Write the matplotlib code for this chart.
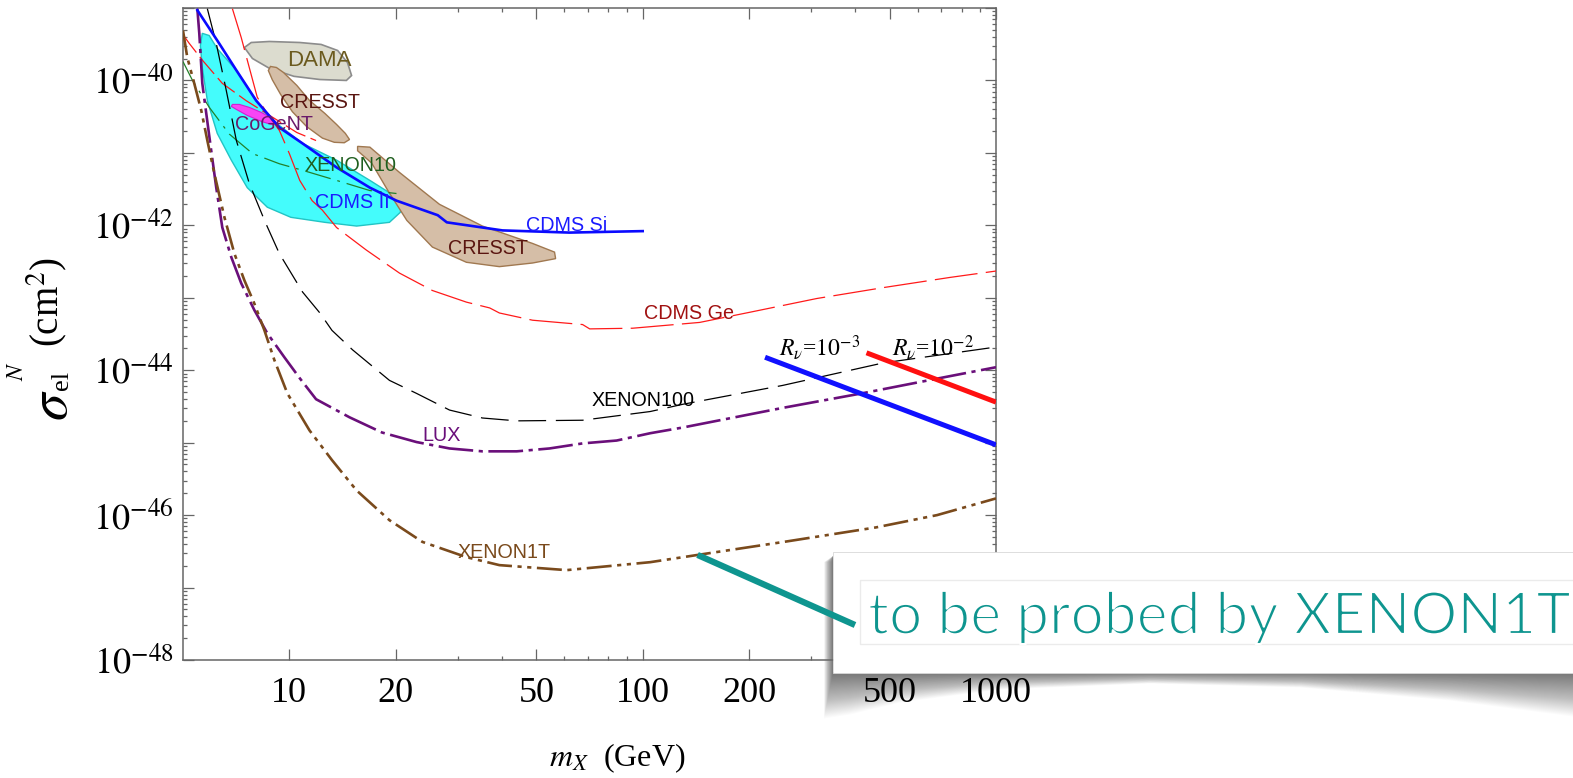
import matplotlib
matplotlib.use('Agg')
import matplotlib.pyplot as plt
import matplotlib.patheffects as pe
from matplotlib.patches import Polygon, Rectangle
from matplotlib.lines import Line2D
from matplotlib.ticker import NullFormatter

W, H = 1573, 778

# ---- values: WIMP mass in GeV, cross section in cm^2 ----
cdms_si_mass = [5.49, 6.33, 7.08, 8.06, 9.37, 10.9, 13.6, 16.9, 20.1, 26.3, 27.9, 40.1, 62.1, 100]
cdms_si_sigma = [9.33e-40, 3.24e-40, 1.38e-40, 5.25e-41, 2.24e-41, 1.35e-41, 6.31e-42, 3.31e-42,
                 2.19e-42, 1.38e-42, 1.10e-42, 8.51e-43, 7.94e-43, 8.32e-43]

cdms_ge_mass = [6.90, 7.31, 7.70, 8.11, 8.66, 9.37, 10.0, 10.7, 11.6, 12.4, 13.6, 16.5, 20.5, 25.4,
                31.7, 36.9, 39.3, 48.8, 67.6, 70.8, 93.7, 145, 201, 311, 479, 741, 1000]
cdms_ge_sigma = [9.77e-40, 3.89e-40, 1.51e-40, 5.89e-41, 3.47e-41, 2.04e-41, 9.77e-42, 4.17e-42,
                 2.19e-42, 1.62e-42, 9.33e-43, 4.57e-43, 2.19e-43, 1.26e-43, 8.71e-44, 7.24e-44,
                 6.17e-44, 4.90e-44, 4.27e-44, 3.72e-44, 3.80e-44, 4.57e-44, 6.31e-44, 9.77e-44,
                 1.38e-43, 1.91e-43, 2.34e-43]

cdms_lt_mass = [5.0, 5.21, 5.67, 6.46, 7.55, 8.78, 10.5, 11.9]
cdms_lt_sigma = [4.27e-40, 3.24e-40, 1.91e-40, 9.12e-41, 5.25e-41, 3.31e-41, 1.91e-41, 1.48e-41]

xenon10_mass = [5.0, 5.32, 5.93, 6.76, 7.87, 9.37, 10.9, 13.6, 16.9, 20.1]
xenon10_sigma = [1.82e-40, 1.0e-40, 4.27e-41, 1.82e-41, 9.77e-42, 7.08e-42, 5.75e-42, 4.17e-42,
                 3.02e-42, 2.75e-42]

xenon100_mass = [5.86, 6.21, 6.63, 7.08, 7.70, 8.55, 9.37, 10.9, 12.2, 13.2, 15.1, 19.2, 22.9,
                 28.4, 35.2, 44.0, 67.6, 105, 130, 249, 479, 1000]
xenon100_sigma = [9.77e-40, 3.24e-40, 7.24e-41, 1.48e-41, 3.80e-42, 1.10e-42, 4.07e-43, 1.20e-43,
                  6.17e-44, 3.55e-44, 1.91e-44, 7.24e-45, 4.79e-45, 2.82e-45, 2.19e-45, 2.00e-45,
                  2.04e-45, 2.69e-45, 3.39e-45, 6.17e-45, 1.26e-44, 2.09e-44]

lux_mass = [5.49, 5.56, 5.67, 5.82, 6.01, 6.21, 6.46, 6.85, 7.31, 7.96, 8.66, 9.68, 10.7, 11.9,
            14.8, 18.3, 22.9, 28.4, 35.2, 44.0, 54.5, 67.6, 84.4, 105, 130, 249, 417, 708, 1000]
lux_sigma = [9.77e-40, 4.47e-40, 9.12e-41, 3.47e-41, 1.07e-41, 3.31e-42, 9.33e-43, 3.63e-43,
             1.58e-43, 6.76e-44, 3.24e-44, 1.51e-44, 7.76e-45, 3.98e-45, 2.24e-45, 1.38e-45,
             1.02e-45, 8.32e-46, 7.59e-46, 7.59e-46, 8.32e-46, 9.77e-46, 1.07e-45, 1.35e-45,
             1.62e-45, 3.02e-45, 4.79e-45, 7.94e-45, 1.10e-44]

xenon1t_mass = [5.0, 5.14, 5.38, 5.63, 5.86, 6.13, 6.55, 6.99, 7.46, 7.96, 8.50, 9.07, 9.87, 11.4,
                13.2, 15.5, 19.2, 23.8, 31.7, 39.3, 60.9, 105, 143, 251, 457, 681, 1000]
xenon1t_sigma = [4.90e-40, 2.09e-40, 9.12e-41, 3.89e-41, 1.48e-41, 5.25e-42, 1.29e-42, 4.07e-43,
                 1.74e-43, 8.32e-44, 3.55e-44, 1.38e-44, 4.79e-45, 1.48e-45, 5.75e-46, 2.19e-46,
                 8.51e-47, 4.27e-47, 2.63e-47, 2.04e-47, 1.74e-47, 2.24e-47, 2.82e-47, 4.27e-47,
                 6.76e-47, 1.0e-46, 1.70e-46]

rv3_mass = [222, 1000]
rv3_sigma = [1.51e-44, 9.33e-46]
rv2_mass = [430, 1000]
rv2_sigma = [1.74e-44, 3.63e-45]

# signal regions (closed outlines)
cdms_ii_mass = [5.67, 5.93, 6.25, 7.08, 8.06, 9.19, 10.9, 13.6, 16.9, 20.1, 20.8, 20.6, 19.2, 15.5,
                12.6, 10.1, 8.66, 7.60, 6.85, 6.25, 5.86, 5.67, 5.60]
cdms_ii_sigma = [4.47e-40, 4.17e-40, 2.75e-40, 1.38e-40, 5.25e-41, 2.57e-41, 1.35e-41, 7.94e-42,
                 4.17e-42, 2.45e-42, 1.91e-42, 1.51e-42, 1.10e-42, 9.77e-43, 1.10e-42, 1.29e-42,
                 1.78e-42, 3.31e-42, 7.94e-42, 1.86e-41, 5.25e-41, 1.51e-40, 3.02e-40]

dama_mass = [7.46, 7.80, 8.78, 10.7, 12.3, 13.7, 14.6, 15.0, 14.5, 12.2, 10.3, 8.78, 7.86]
dama_sigma = [2.85e-40, 3.34e-40, 3.45e-40, 3.34e-40, 3.14e-40, 2.59e-40, 1.77e-40, 1.17e-40,
              1.0e-40, 1.03e-40, 1.14e-40, 1.47e-40, 2.01e-40]

cresst_a_mass = [8.84, 9.19, 9.62, 10.5, 11.4, 12.6, 13.6, 14.4, 14.8, 14.3, 13.4, 12.4, 11.2,
                 10.2, 9.45, 8.95, 8.72]
cresst_a_sigma = [1.56e-40, 1.51e-40, 1.29e-40, 8.53e-41, 5.30e-41, 3.51e-41, 2.47e-41, 1.86e-41,
                  1.53e-41, 1.38e-41, 1.40e-41, 1.60e-41, 2.30e-41, 3.70e-41, 6.40e-41, 1.02e-40,
                  1.37e-40]

cresst_b_mass = [15.6, 16.9, 20.5, 26.6, 35.2, 48.8, 56.3, 56.7, 48.8, 39.3, 31.7, 25.4, 21.5,
                 19.0, 17.1, 15.6]
cresst_b_sigma = [1.23e-41, 1.20e-41, 5.37e-42, 1.95e-42, 9.77e-43, 5.62e-43, 4.27e-43, 3.47e-43,
                  3.02e-43, 2.69e-43, 3.09e-43, 5.01e-43, 1.17e-42, 3.02e-42, 7.24e-42, 1.07e-41]

cogent_mass = [6.90, 7.22, 7.70, 8.33, 8.95, 9.25, 8.89, 8.33, 7.60, 7.08, 6.85]
cogent_sigma = [4.67e-41, 4.67e-41, 4.25e-41, 3.62e-41, 2.99e-41, 2.55e-41, 2.47e-41, 2.72e-41,
                3.29e-41, 3.98e-41, 4.38e-41]

xenon1t_pointer = (143, 2.82e-47)

x_ticks = [10, 20, 50, 100, 200, 500, 1000]
x_tick_labels = ['10', '20', '50', '100', '200', '500', '1000']
x_minor = [30, 40, 60, 70, 80, 90, 300, 400, 600, 700, 800, 900]
y_ticks = [10.0 ** e for e in range(-48, -38)]
y_tick_labels = ['$10^{%d}$' % e if e % 2 == 0 else '' for e in range(-48, -38)]

# ---- style ----
plt.rcParams['mathtext.fontset'] = 'stix'
plt.rcParams['font.family'] = ['Liberation Serif', 'DejaVu Serif']
plt.rcParams['lines.scale_dashes'] = False

SANS = ['Liberation Sans Narrow', 'Liberation Sans', 'DejaVu Sans']
TEAL = '#0e958f'
AXC = '#666666'

fig = plt.figure(figsize=(W / 100, H / 100), dpi=100)
ax = fig.add_axes([183 / W, 1 - 660 / H, (996 - 183) / W, (660 - 8) / H])
ax.set_facecolor('none')
ax.set_xscale('log')
ax.set_yscale('log')
ax.set_xlim(5, 1000)
ax.set_ylim(1e-48, 1e-39)

# regions
ax.fill(cdms_ii_mass, cdms_ii_sigma, facecolor='#44fcfc', edgecolor='#22c4c4', lw=1.0, zorder=1)
ax.fill(cresst_a_mass, cresst_a_sigma, facecolor='#d5bea7', edgecolor='#a07850', lw=1.0, zorder=1.2)
ax.fill(dama_mass, dama_sigma, facecolor='#dcdccf', edgecolor='#8c8c8c', lw=1.2, zorder=1.1)
ax.fill(cresst_b_mass, cresst_b_sigma, facecolor='#d5bea7', edgecolor='#a07850', lw=1.0, zorder=1.2)
ax.fill(cogent_mass, cogent_sigma, facecolor='#f845f5', edgecolor='#d020d0', lw=0.8, zorder=1.3)

# exclusion curves
ax.plot(cdms_lt_mass, cdms_lt_sigma, color='#ff1a1a', lw=0.9, dashes=(16, 4), zorder=3)
ax.plot(cdms_ge_mass, cdms_ge_sigma, color='#ff1a1a', lw=0.9, dashes=(31, 6), zorder=3)
ax.plot(xenon10_mass, xenon10_sigma, color='#23802a', lw=0.9, dashes=(19, 5, 2, 5), zorder=3)
ax.plot(xenon100_mass, xenon100_sigma, color='black', lw=0.9, dashes=(20, 7), zorder=3)
ax.plot(lux_mass, lux_sigma, color='#6a0f7a', lw=1.9, dashes=(25, 4, 3, 4), zorder=3)
ax.plot(xenon1t_mass, xenon1t_sigma, color='#7a4a1c', lw=1.9, dashes=(18, 4, 3, 4, 3, 4), zorder=3)
ax.plot(cdms_si_mass, cdms_si_sigma, color='#0a0aff', lw=1.9, zorder=3.5)
ax.plot(rv3_mass, rv3_sigma, color='#1010ff', lw=3.6, solid_capstyle='butt', zorder=3.5)
ax.plot(rv2_mass, rv2_sigma, color='#ff1010', lw=3.6, solid_capstyle='butt', zorder=3.5)

# curve labels
lab = dict(family=SANS, fontsize=14.2, ha='center', va='center', zorder=4)
ax.text(12.2, 1.89e-40, 'DAMA', color='#6b5a1e', **{**lab, 'fontsize': 16})
ax.text(12.2, 4.9e-41, 'CRESST', color='#5a1510', **lab)
ax.text(9.02, 2.43e-41, 'CoGeNT', color='#6a1a6a', **lab)
ax.text(14.9, 6.6e-42, 'XENON10', color='#1f5f1f', **lab)
ax.text(15.1, 2.04e-42, 'CDMS II', color='#1a1aff', **lab)
ax.text(60.8, 9.8e-43, 'CDMS Si', color='#1a1aff', **lab)
ax.text(36.6, 4.8e-43, 'CRESST', color='#5a1510', **lab)
ax.text(135, 6.0e-44, 'CDMS Ge', color='#a01010', **lab)
ax.text(100, 3.8e-45, 'XENON100', color='black', **lab)
ax.text(27.0, 1.25e-45, 'LUX', color='#6a0f7a', **lab)
ax.text(40.6, 3.04e-47, 'XENON1T', color='#7a4a1c', **lab)
ax.text(318, 2.07e-44, r'$R_\nu$=$10^{-3}$', fontsize=17, ha='center', va='center', zorder=4)
ax.text(663, 2.07e-44, r'$R_\nu$=$10^{-2}$', fontsize=17, ha='center', va='center', zorder=4)

# axes / ticks
for s in ax.spines.values():
    s.set_color(AXC)
    s.set_linewidth(1.1)
ax.set_xticks(x_ticks, x_tick_labels)
ax.set_xticks(x_minor, minor=True)
ax.set_yticks(y_ticks, y_tick_labels)
ax.xaxis.set_minor_formatter(NullFormatter())
ax.yaxis.set_minor_formatter(NullFormatter())
ax.tick_params(which='both', direction='in', top=True, right=True, color=AXC, width=0.9)
ax.tick_params(which='major', length=8, labelsize=26)
ax.tick_params(which='minor', length=3.2)
ax.tick_params(axis='x', which='major', pad=12)
ax.tick_params(axis='y', which='major', pad=7)
ax.set_ylim(1e-48, 1e-39)

ax.set_xlabel(r'$m_X$  (GeV)', fontsize=23)
ax.xaxis.set_label_coords(0.534, -0.15)
ax.xaxis.label.set_va('center')


# ---- helpers in figure pixels (origin top-left) ----
def fpx(x, y):
    return (x / W, 1 - y / H)


# y axis title: large sigma with small sub/superscript, then the unit
rot = dict(rotation=90, rotation_mode='anchor', ha='left', va='baseline')
fig.text(*fpx(67, 421), r'$\sigma$', fontsize=40, **rot)
fig.text(*fpx(68, 390), 'el', fontsize=19, **rot)
fig.text(*fpx(23, 381), r'$N$', fontsize=17, **rot)
fig.text(*fpx(58, 347), r'(cm$^2$)', fontsize=28, **rot)

# ---- callout box ----
box_l, box_t, box_b = 833, 551.5, 672.5
shadow_x = [850, 900, 1000, 1150, 1300, 1450, 1573]
shadow_d = [42, 30, 17, 11, 15, 28, 44]
n_layers = 40
for k in range(n_layers, 0, -1):
    f = k / n_layers
    pts = [fpx(box_l, 556), fpx(box_l - 9 * f, 562), fpx(box_l - 9 * f, box_b + 46 * f)]
    pts += [fpx(sx, box_b + d * f) for sx, d in zip(shadow_x, shadow_d)]
    pts += [fpx(W, box_b), fpx(box_l, box_b)]
    fig.add_artist(Polygon(pts, closed=True, transform=fig.transFigure, facecolor='#000000',
                           edgecolor='none', alpha=0.017, zorder=-1))

fig.add_artist(Rectangle(fpx(box_l, box_b), (W + 10 - box_l) / W, (box_b - box_t) / H,
                         transform=fig.transFigure, facecolor='white', edgecolor='#d8d8d8',
                         lw=0.6, zorder=5))
fig.add_artist(Rectangle(fpx(860, 644), (W + 10 - 860) / W, (644 - 580) / H,
                         transform=fig.transFigure, facecolor='white', edgecolor='#ebebeb',
                         lw=1.0, zorder=6))

note = fig.text(868 / W, 1 - 634 / H, 'to be probed by XENON1T', fontsize=40,
                family=['Lato', 'DejaVu Sans'], fontweight='normal', color=TEAL,
                ha='left', va='baseline', zorder=7,
                path_effects=[pe.Stroke(linewidth=1.6, foreground='white')])
fig.canvas.draw()
w = note.get_window_extent().width
note.set_fontsize(40 * 703 / w)

p0 = fig.transFigure.inverted().transform(ax.transData.transform(xenon1t_pointer))
p1 = fpx(855, 625)
fig.add_artist(Line2D([p0[0], p1[0]], [p0[1], p1[1]], transform=fig.transFigure, color=TEAL,
                      lw=4.5, solid_capstyle='butt', zorder=8))

fig.savefig('out.png', dpi=100)
